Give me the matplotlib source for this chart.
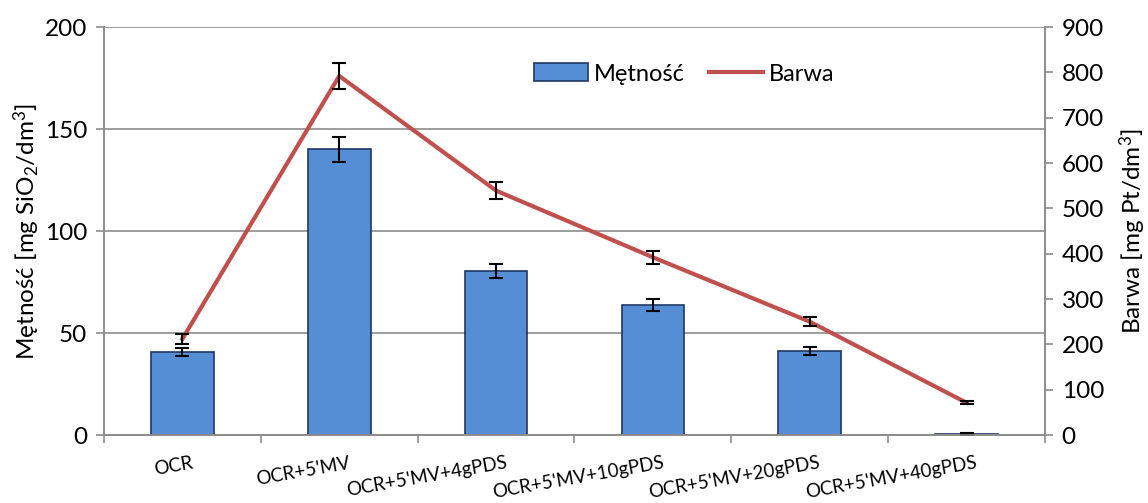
import matplotlib
matplotlib.use("Agg")
import matplotlib.pyplot as plt
import numpy as np
from matplotlib.patches import Patch
from matplotlib.lines import Line2D
import matplotlib.transforms as mtransforms

categories = ["OCR", "OCR+5'MV", "OCR+5'MV+4gPDS", "OCR+5'MV+10gPDS", "OCR+5'MV+20gPDS", "OCR+5'MV+40gPDS"]
metnosc = [40.8, 140.0, 80.4, 63.8, 41.0, 0.5]
metnosc_err = [2.0, 6.0, 3.5, 3.0, 2.0, 0.3]
barwa = [212, 792, 539, 392, 250, 71]
barwa_err = [11, 28, 19, 14, 10, 3]
left_ticks = [0, 50, 100, 150, 200]
right_ticks = [0, 100, 200, 300, 400, 500, 600, 700, 800, 900]

FONT = "Lato"
plt.rcParams['font.family'] = [FONT, 'DejaVu Sans']
plt.rcParams['mathtext.fontset'] = 'custom'
plt.rcParams['mathtext.rm'] = FONT
plt.rcParams['mathtext.it'] = FONT
plt.rcParams['mathtext.bf'] = FONT

GRAY = "#8c8c8c"
BAR = "#558ED5"
BAR_EDGE = "#1F3864"
RED = "#C0504D"

fig = plt.figure(figsize=(11.48, 5.03), dpi=100)
ax = fig.add_axes([104/1148, 1 - 435/503, (1045-104)/1148, (435-27)/503])
ax2 = ax.twinx()

x = np.arange(len(categories))
ax.bar(x, metnosc, width=0.40, color=BAR, edgecolor=BAR_EDGE, linewidth=1.2, zorder=2)
ax.errorbar(x, metnosc, yerr=metnosc_err, fmt='none', ecolor='black', elinewidth=1.5,
            capsize=5, capthick=1.5, zorder=3)

ax2.plot(x, barwa, color=RED, linewidth=3, zorder=2)
ax2.errorbar(x, barwa, yerr=barwa_err, fmt='none', ecolor='black', elinewidth=1.5,
             capsize=5, capthick=1.5, zorder=3)

ax.set_xlim(-0.5, len(categories) - 0.5)
ax.set_ylim(0, 200)
ax2.set_ylim(0, 900)
ax.set_yticks(left_ticks)
ax2.set_yticks(right_ticks)

ax.yaxis.grid(True, color=GRAY, linewidth=1.2, zorder=0)
ax.set_axisbelow(True)

for a in (ax, ax2):
    for s in a.spines.values():
        s.set_color(GRAY)
        s.set_linewidth(1.2)
ax.spines['top'].set_visible(False)
ax2.spines['top'].set_visible(False)

ax.tick_params(axis='y', colors=GRAY, length=6, width=1.2, labelsize=17.5, labelcolor='black', pad=6)
ax2.tick_params(axis='y', colors=GRAY, length=6, width=1.2, labelsize=17.5, labelcolor='black', pad=6)

# x ticks: marks at category boundaries, labels at centres
ax.set_xticks(np.arange(-0.5, len(categories), 1.0))
ax.set_xticklabels([])
ax.tick_params(axis='x', which='major', colors=GRAY, length=6, width=1.2)
ax.set_xticks(x, minor=True)
ax.set_xticklabels(categories, minor=True, rotation=10, ha='right', rotation_mode='anchor', fontsize=13.5)
ax.tick_params(axis='x', which='minor', length=0, pad=14)
offset = mtransforms.ScaledTranslation(9/100, 0, fig.dpi_scale_trans)
for lbl in ax.get_xticklabels(minor=True):
    lbl.set_transform(lbl.get_transform() + offset)

ax.set_ylabel("Mętność [mg SiO$_2$/dm$^3$]", fontsize=17.5, labelpad=2)
ax2.set_ylabel("Barwa [mg Pt/dm$^3$]", fontsize=17.5, labelpad=10)

handles = [Patch(facecolor=BAR, edgecolor=BAR_EDGE, linewidth=1.2),
           Line2D([0], [0], color=RED, linewidth=3)]
ax2.legend(handles, ["Mętność", "Barwa"], loc='center left', bbox_to_anchor=(0.457, 0.885),
           ncol=2, frameon=False, fontsize=17, handlelength=2.3, handleheight=0.8,
           handletextpad=0.25, columnspacing=1.0, borderaxespad=0, borderpad=0)

fig.savefig("out.png", dpi=100)
